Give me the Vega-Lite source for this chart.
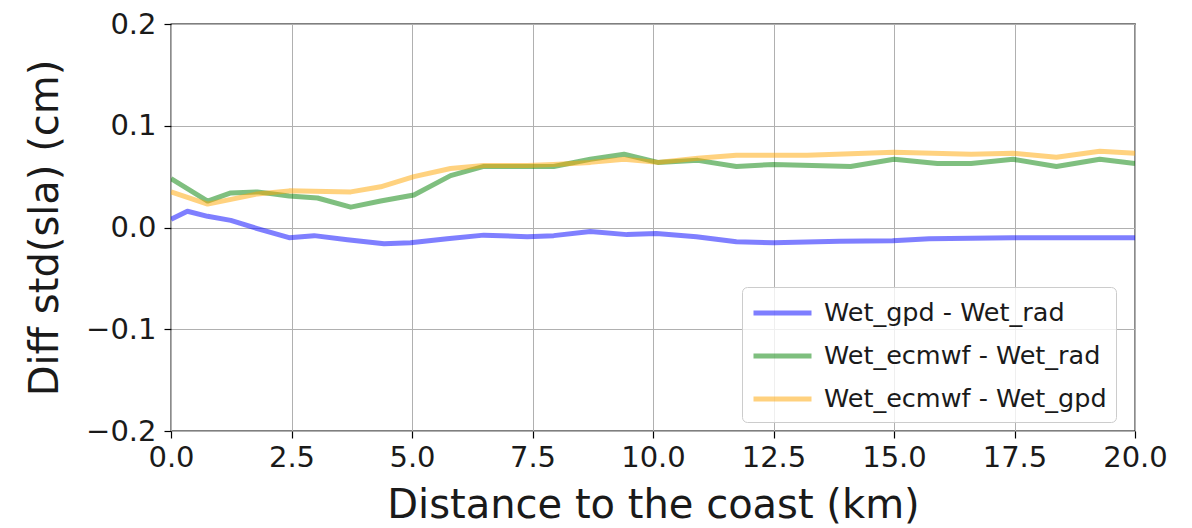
{
  "$schema": "https://vega.github.io/schema/vega-lite/v6.json",
  "autosize": {"type": "none"},
  "padding": {"left": 171, "top": 24, "right": 57, "bottom": 97},
  "width": 964,
  "height": 407,
  "background": "white",
  "config": {
    "font": "DejaVu Sans",
    "view": {"stroke": "black", "strokeWidth": 1.3},
    "axis": {
      "labelFont": "DejaVu Sans",
      "titleFont": "DejaVu Sans",
      "labelFontSize": 29,
      "titleFontSize": 40,
      "titleFontWeight": "normal",
      "labelColor": "#1a1a1a",
      "titleColor": "#1a1a1a",
      "domain": false,
      "tickColor": "black",
      "tickSize": 7,
      "tickWidth": 1.2,
      "gridColor": "#b0b0b0",
      "gridWidth": 1,
      "gridOpacity": 1
    }
  },
  "data": {
    "values": [
      {"x": 0.0, "y": 0.008, "s": "Wet_gpd - Wet_rad"},
      {"x": 0.34, "y": 0.016, "s": "Wet_gpd - Wet_rad"},
      {"x": 0.76, "y": 0.011, "s": "Wet_gpd - Wet_rad"},
      {"x": 1.24, "y": 0.007, "s": "Wet_gpd - Wet_rad"},
      {"x": 1.79, "y": -0.001, "s": "Wet_gpd - Wet_rad"},
      {"x": 2.45, "y": -0.010, "s": "Wet_gpd - Wet_rad"},
      {"x": 2.97, "y": -0.008, "s": "Wet_gpd - Wet_rad"},
      {"x": 3.66, "y": -0.012, "s": "Wet_gpd - Wet_rad"},
      {"x": 4.42, "y": -0.016, "s": "Wet_gpd - Wet_rad"},
      {"x": 4.97, "y": -0.015, "s": "Wet_gpd - Wet_rad"},
      {"x": 5.73, "y": -0.011, "s": "Wet_gpd - Wet_rad"},
      {"x": 6.49, "y": -0.0075, "s": "Wet_gpd - Wet_rad"},
      {"x": 7.39, "y": -0.009, "s": "Wet_gpd - Wet_rad"},
      {"x": 7.94, "y": -0.008, "s": "Wet_gpd - Wet_rad"},
      {"x": 8.7, "y": -0.004, "s": "Wet_gpd - Wet_rad"},
      {"x": 9.46, "y": -0.007, "s": "Wet_gpd - Wet_rad"},
      {"x": 10.07, "y": -0.006, "s": "Wet_gpd - Wet_rad"},
      {"x": 10.9, "y": -0.009, "s": "Wet_gpd - Wet_rad"},
      {"x": 11.73, "y": -0.014, "s": "Wet_gpd - Wet_rad"},
      {"x": 12.5, "y": -0.015, "s": "Wet_gpd - Wet_rad"},
      {"x": 13.87, "y": -0.0135, "s": "Wet_gpd - Wet_rad"},
      {"x": 14.97, "y": -0.013, "s": "Wet_gpd - Wet_rad"},
      {"x": 15.73, "y": -0.011, "s": "Wet_gpd - Wet_rad"},
      {"x": 17.46, "y": -0.010, "s": "Wet_gpd - Wet_rad"},
      {"x": 20.0, "y": -0.010, "s": "Wet_gpd - Wet_rad"},
      {"x": 0.0, "y": 0.048, "s": "Wet_ecmwf - Wet_rad"},
      {"x": 0.76, "y": 0.026, "s": "Wet_ecmwf - Wet_rad"},
      {"x": 1.24, "y": 0.034, "s": "Wet_ecmwf - Wet_rad"},
      {"x": 1.79, "y": 0.035, "s": "Wet_ecmwf - Wet_rad"},
      {"x": 2.45, "y": 0.031, "s": "Wet_ecmwf - Wet_rad"},
      {"x": 3.04, "y": 0.029, "s": "Wet_ecmwf - Wet_rad"},
      {"x": 3.73, "y": 0.020, "s": "Wet_ecmwf - Wet_rad"},
      {"x": 4.35, "y": 0.026, "s": "Wet_ecmwf - Wet_rad"},
      {"x": 5.04, "y": 0.032, "s": "Wet_ecmwf - Wet_rad"},
      {"x": 5.8, "y": 0.051, "s": "Wet_ecmwf - Wet_rad"},
      {"x": 6.49, "y": 0.060, "s": "Wet_ecmwf - Wet_rad"},
      {"x": 7.39, "y": 0.060, "s": "Wet_ecmwf - Wet_rad"},
      {"x": 7.94, "y": 0.060, "s": "Wet_ecmwf - Wet_rad"},
      {"x": 8.7, "y": 0.067, "s": "Wet_ecmwf - Wet_rad"},
      {"x": 9.4, "y": 0.072, "s": "Wet_ecmwf - Wet_rad"},
      {"x": 10.1, "y": 0.064, "s": "Wet_ecmwf - Wet_rad"},
      {"x": 10.93, "y": 0.066, "s": "Wet_ecmwf - Wet_rad"},
      {"x": 11.73, "y": 0.060, "s": "Wet_ecmwf - Wet_rad"},
      {"x": 12.5, "y": 0.062, "s": "Wet_ecmwf - Wet_rad"},
      {"x": 14.1, "y": 0.060, "s": "Wet_ecmwf - Wet_rad"},
      {"x": 15.0, "y": 0.067, "s": "Wet_ecmwf - Wet_rad"},
      {"x": 15.9, "y": 0.063, "s": "Wet_ecmwf - Wet_rad"},
      {"x": 16.6, "y": 0.063, "s": "Wet_ecmwf - Wet_rad"},
      {"x": 17.47, "y": 0.067, "s": "Wet_ecmwf - Wet_rad"},
      {"x": 18.37, "y": 0.060, "s": "Wet_ecmwf - Wet_rad"},
      {"x": 19.27, "y": 0.067, "s": "Wet_ecmwf - Wet_rad"},
      {"x": 20.0, "y": 0.063, "s": "Wet_ecmwf - Wet_rad"},
      {"x": 0.0, "y": 0.035, "s": "Wet_ecmwf - Wet_gpd"},
      {"x": 0.76, "y": 0.023, "s": "Wet_ecmwf - Wet_gpd"},
      {"x": 1.79, "y": 0.033, "s": "Wet_ecmwf - Wet_gpd"},
      {"x": 2.45, "y": 0.036, "s": "Wet_ecmwf - Wet_gpd"},
      {"x": 3.73, "y": 0.035, "s": "Wet_ecmwf - Wet_gpd"},
      {"x": 4.35, "y": 0.040, "s": "Wet_ecmwf - Wet_gpd"},
      {"x": 5.04, "y": 0.050, "s": "Wet_ecmwf - Wet_gpd"},
      {"x": 5.8, "y": 0.058, "s": "Wet_ecmwf - Wet_gpd"},
      {"x": 6.49, "y": 0.061, "s": "Wet_ecmwf - Wet_gpd"},
      {"x": 7.39, "y": 0.061, "s": "Wet_ecmwf - Wet_gpd"},
      {"x": 7.94, "y": 0.062, "s": "Wet_ecmwf - Wet_gpd"},
      {"x": 8.7, "y": 0.064, "s": "Wet_ecmwf - Wet_gpd"},
      {"x": 9.4, "y": 0.067, "s": "Wet_ecmwf - Wet_gpd"},
      {"x": 10.1, "y": 0.064, "s": "Wet_ecmwf - Wet_gpd"},
      {"x": 10.93, "y": 0.068, "s": "Wet_ecmwf - Wet_gpd"},
      {"x": 11.73, "y": 0.071, "s": "Wet_ecmwf - Wet_gpd"},
      {"x": 13.2, "y": 0.071, "s": "Wet_ecmwf - Wet_gpd"},
      {"x": 15.0, "y": 0.074, "s": "Wet_ecmwf - Wet_gpd"},
      {"x": 16.6, "y": 0.072, "s": "Wet_ecmwf - Wet_gpd"},
      {"x": 17.47, "y": 0.073, "s": "Wet_ecmwf - Wet_gpd"},
      {"x": 18.37, "y": 0.069, "s": "Wet_ecmwf - Wet_gpd"},
      {"x": 19.27, "y": 0.075, "s": "Wet_ecmwf - Wet_gpd"},
      {"x": 20.0, "y": 0.073, "s": "Wet_ecmwf - Wet_gpd"}
    ]
  },
  "mark": {"type": "line", "strokeWidth": 5, "strokeOpacity": 0.5, "strokeJoin": "round", "clip": true},
  "encoding": {
    "x": {
      "field": "x", "type": "quantitative",
      "scale": {"domain": [0, 20], "nice": false, "zero": false},
      "axis": {"title": "Distance to the coast (km)", "values": [0, 2.5, 5, 7.5, 10, 12.5, 15, 17.5, 20], "format": ".1f", "labelPadding": 5, "titlePadding": 13, "labelFlush": false}
    },
    "y": {
      "field": "y", "type": "quantitative",
      "scale": {"domain": [-0.2, 0.2], "nice": false, "zero": false},
      "axis": {"title": "Diff std(sla) (cm)", "values": [-0.2, -0.1, 0, 0.1, 0.2], "format": ".1f", "labelPadding": 8, "titlePadding": 20, "labelFlush": false}
    },
    "color": {
      "field": "s", "type": "nominal",
      "scale": {"domain": ["Wet_gpd - Wet_rad", "Wet_ecmwf - Wet_rad", "Wet_ecmwf - Wet_gpd"], "range": ["#0000ff", "#008000", "#ffa500"]},
      "legend": {
        "title": null,
        "orient": "none",
        "legendX": 571,
        "legendY": 263,
        "symbolType": "M-1,0H3",
        "symbolSize": 841,
        "symbolStrokeWidth": 5,
        "symbolOpacity": 0.5,
        "labelFontSize": 25.5,
        "labelFont": "DejaVu Sans",
        "labelColor": "#1a1a1a",
        "labelOffset": 39,
        "rowPadding": 12,
        "padding": 9,
        "fillColor": "rgba(255,255,255,0.8)",
        "strokeColor": "#cccccc",
        "cornerRadius": 5,
        "labelLimit": 400
      }
    }
  }
}
